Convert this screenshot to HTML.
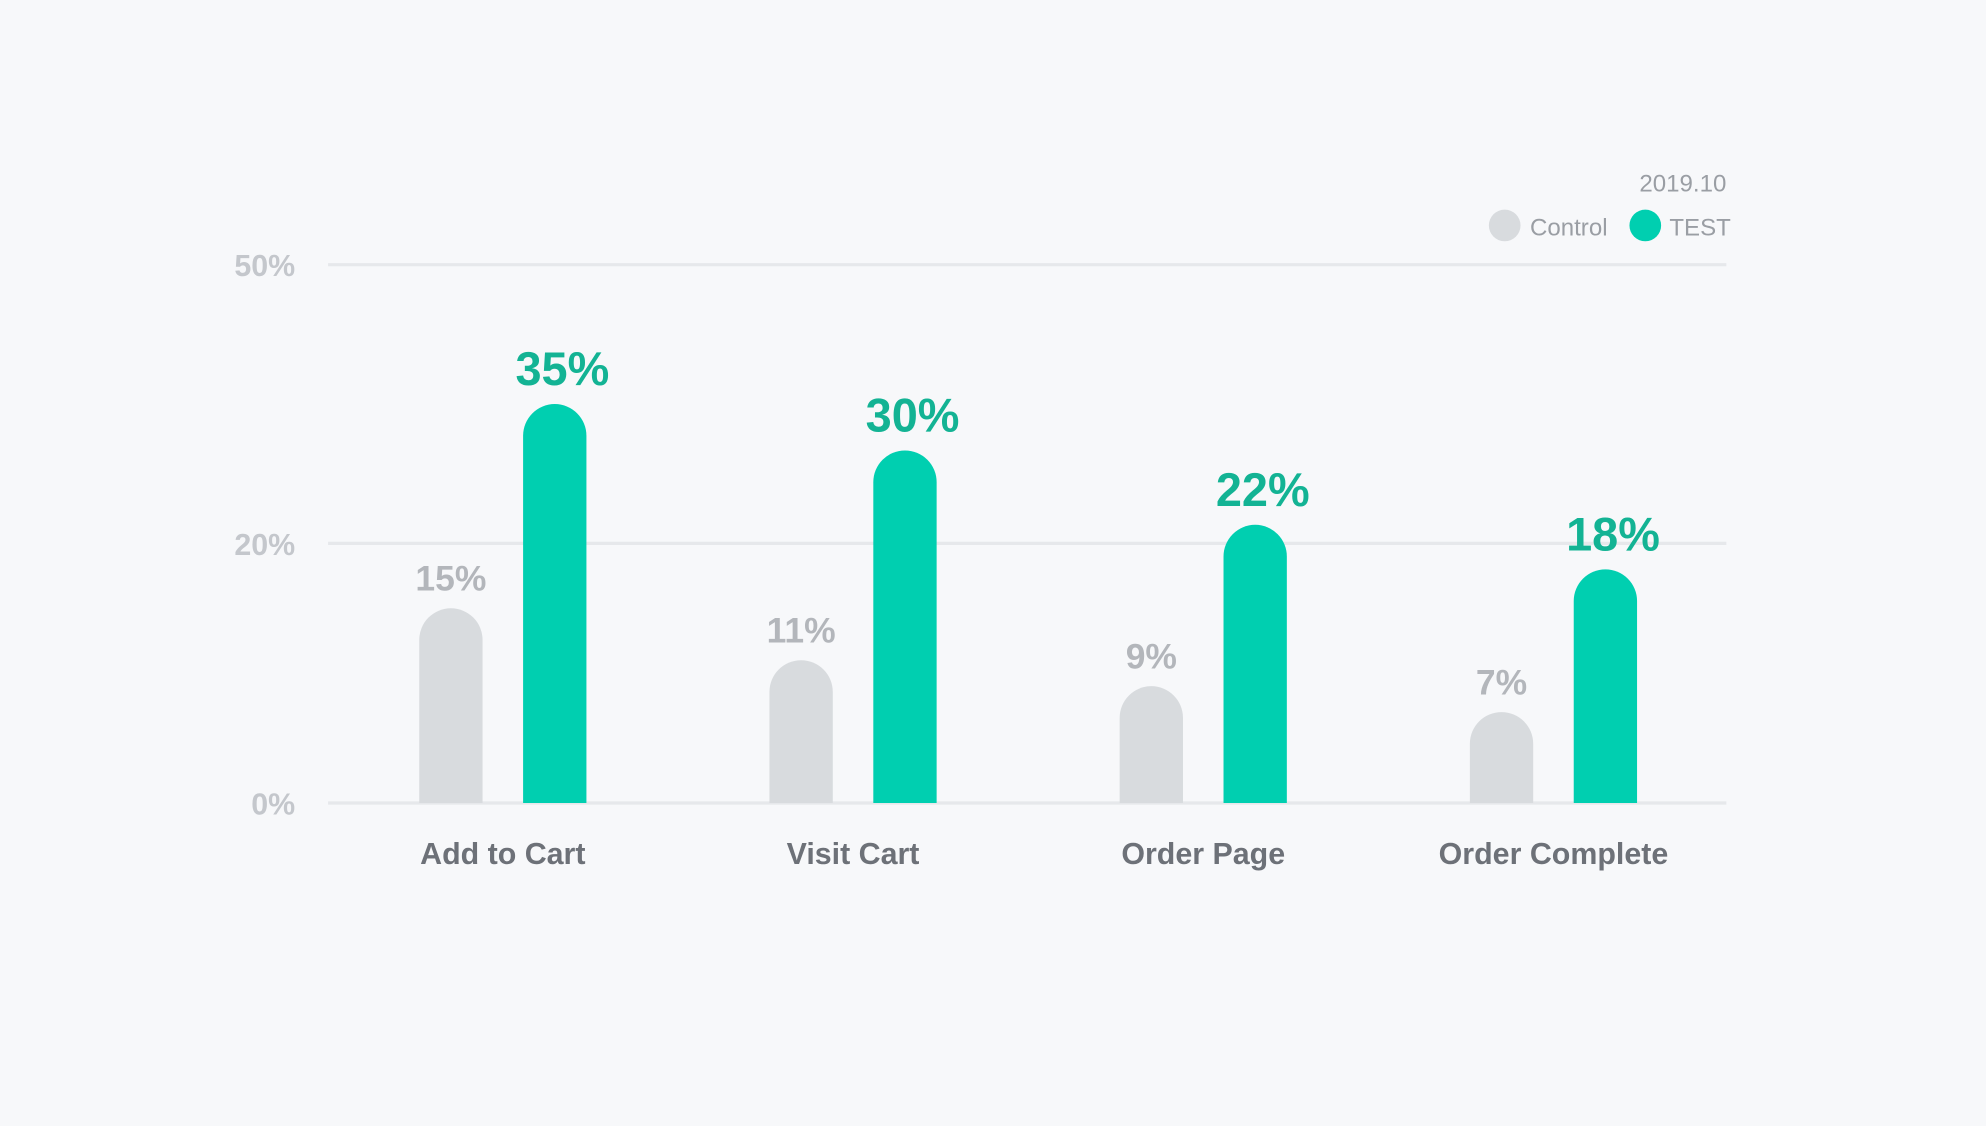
<!DOCTYPE html>
<html><head><meta charset="utf-8"><style>
html,body{margin:0;padding:0;background:#f7f8fa;}
svg{display:block;font-family:"Liberation Sans",sans-serif;}
</style></head><body>
<svg id="chart" width="1986" height="1126" viewBox="0 0 1568 889" xmlns="http://www.w3.org/2000/svg">
<rect width="1568" height="889" fill="#f7f8fa"/>
<text x="1363" y="151" text-anchor="end" font-size="19" fill="#9a9ea4">2019.10</text>
<g>
<g><circle cx="1188" cy="178" r="12.5" fill="#d8dbde"/><text x="1208" y="186" font-size="19" fill="#9a9ea4">Control</text></g>
<g><circle cx="1299" cy="178" r="12.5" fill="#00cfb0"/><text x="1318" y="186" font-size="19" fill="#9a9ea4">TEST</text></g>
</g>
<g id="grid"></g>
<g id="bars"></g>
</svg>
<script>
const categories = ["Add to Cart","Visit Cart","Order Page","Order Complete"];
const controlValues = [15,11,9,7];
const testValues = [35,30,22,18];
const tickValues = [0,20,50];
const tickLabels = ["0%","20%","50%"];

const NS="http://www.w3.org/2000/svg";
const tickPx=[634,429,209];
function y(v){
  for(let i=0;i<tickValues.length-1;i++){
    const a=tickValues[i],b=tickValues[i+1];
    if(v<=b||i===tickValues.length-2){return tickPx[i]+(v-a)/(b-a)*(tickPx[i+1]-tickPx[i]);}
  }
}
function x(i){return 259+138+i*276.5;}
function mk(t,attrs,parent){const e=document.createElementNS(NS,t);for(const k in attrs)e.setAttribute(k,attrs[k]);parent.appendChild(e);return e;}
const grid=document.getElementById('grid'),bars=document.getElementById('bars');
tickValues.forEach((v,i)=>{
  const l=mk('line',{x1:259,x2:1363,y1:y(v),y2:y(v),stroke:'#e6e8eb','stroke-width':2.5},grid);
  
  
  const t=mk('text',{x:233,y:y(v)+9,'text-anchor':'end','font-size':24,'font-weight':'bold',fill:'#c4c7cc'},grid);
  t.textContent=tickLabels[i];
  
  
});
function bar(cx,v,color,name){
  const w=50,r=25,top=y(v),base=y(0);
  const d=`M${cx-w/2},${base} L${cx-w/2},${top+r} A${r},${r} 0 0 1 ${cx+w/2},${top+r} L${cx+w/2},${base} Z`;
  const p=mk('path',{d:d,fill:color},bars);
  
  
  return top;
}
categories.forEach((c,i)=>{
  const cx=x(i);
  const t1=bar(cx-41,controlValues[i],'#d8dbde','bar-control-'+i);
  const l1=mk('text',{x:cx-41,y:t1-14,'text-anchor':'middle','font-size':28,'font-weight':'bold',fill:'#b3b6bb'},bars);
  l1.textContent=controlValues[i]+'%';
  
  
  const t2=bar(cx+41,testValues[i],'#00cfb0','bar-test-'+i);
  const l2=mk('text',{x:cx+47,y:t2-15,'text-anchor':'middle','font-size':37,'font-weight':'bold',fill:'#13b394'},bars);
  l2.textContent=testValues[i]+'%';
  
  
  const cl=mk('text',{x:cx,y:682,'text-anchor':'middle','font-size':24,'font-weight':'bold',fill:'#6d7178'},bars);
  cl.textContent=c;
  
  
});
</script>
</body></html>
